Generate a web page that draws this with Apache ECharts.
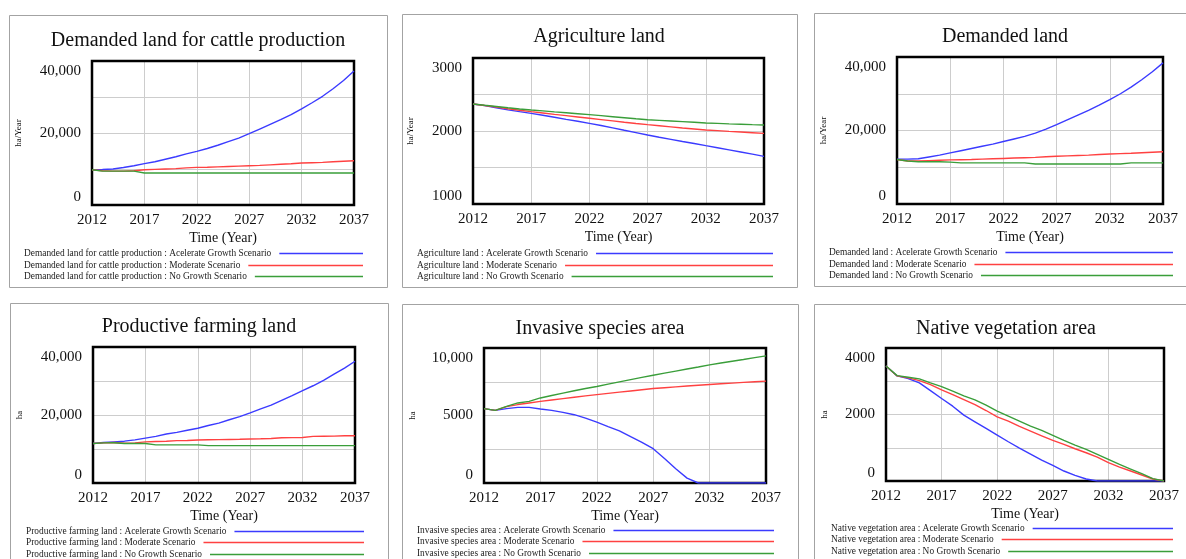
<!DOCTYPE html>
<html>
<head>
<meta charset="utf-8">
<script src="https://cdn.jsdelivr.net/npm/echarts@6/dist/echarts.min.js"></script>
<style>
  html, body { margin: 0; padding: 0; background: #ffffff; }
  #chart { width: 1186px; height: 559px; }
</style>
</head>
<body>
<div id="chart"></div>
<script>
// ---- data ----------------------------------------------------------------
const years = ['2012','2013','2014','2015','2016','2017','2018','2019','2020','2021','2022','2023','2024',
               '2025','2026','2027','2028','2029','2030','2031','2032','2033','2034','2035','2036','2037'];

const scenarios = ['Acelerate Growth Scenario', 'Moderate Scenario', 'No Growth Scenario'];

const panelTitles = ['Demanded land for cattle production', 'Agriculture land', 'Demanded land',
                     'Productive farming land', 'Invasive species area', 'Native vegetation area'];
const unitLabels = ['ha/Year', 'ha/Year', 'ha/Year', 'ha', 'ha', 'ha'];
const timeLabel = 'Time (Year)';

// value axis range per panel (min, max, step)
const yMin  = [0, 1000, 0, 0, 0, 0];
const yMax  = [40000, 3000, 40000, 40000, 10000, 4000];
const yStep = [10000, 500, 10000, 10000, 2500, 1000];

const cattleAccel    = [9800,9850,10000,10400,10900,11500,12000,12700,13400,14200,14900,15700,16600,17600,18600,19800,21100,22400,23700,25100,26700,28400,30200,32300,34600,37200];
const cattleModerate = [9800,9500,9400,9400,9500,9800,9900,10000,10100,10300,10450,10500,10600,10700,10800,10900,11000,11150,11300,11450,11650,11750,11850,12000,12150,12300];
const cattleNoGrowth = [9800,9400,9400,9400,9400,8900,8900,8900,8900,8900,8900,8900,8900,8900,8900,8900,8900,8900,8900,8900,8900,8900,8900,8900,8900,8900];

const agriAccel    = [2370,2348,2318,2290,2265,2242,2215,2188,2160,2133,2105,2075,2043,2010,1978,1945,1915,1886,1856,1828,1799,1771,1742,1713,1683,1653];
const agriModerate = [2370,2350,2328,2305,2285,2265,2247,2228,2210,2192,2174,2156,2138,2120,2103,2087,2072,2057,2042,2028,2014,2005,1995,1986,1977,1968];
const agriNoGrowth = [2370,2352,2335,2318,2302,2288,2275,2262,2250,2237,2224,2210,2196,2182,2168,2155,2146,2137,2128,2119,2110,2104,2098,2093,2087,2082];

const demandAccel    = [12200,12200,12300,12800,13300,13900,14500,15100,15700,16300,17000,17700,18400,19300,20400,21600,22900,24200,25500,26900,28400,30000,31800,33800,36000,38400];
const demandModerate = [12100,11700,11700,11800,11900,12000,12050,12100,12200,12300,12400,12500,12600,12700,12850,13000,13100,13200,13300,13450,13600,13700,13800,13950,14100,14200];
const demandNoGrowth = [12100,11700,11500,11500,11500,11400,11200,11200,11200,11200,11200,11200,11200,10900,10900,10900,10900,10900,10900,10900,10900,10900,11200,11200,11200,11200];

const farmAccel    = [11600,11900,12100,12300,12700,13200,13700,14400,14900,15500,16100,16900,17600,18600,19500,20600,21800,22900,24300,25700,27200,28600,30200,32000,33800,35800];
const farmModerate = [11600,11800,11900,11700,11800,12100,12200,12300,12450,12500,12650,12700,12750,12800,12850,12950,13000,13100,13300,13350,13400,13700,13750,13800,13900,13900];
const farmNoGrowth = [11600,11800,11850,11600,11600,11600,11200,11200,11200,11200,11200,11000,11000,11000,11000,11000,11000,11000,11000,11000,11000,11000,11000,11000,11000,11000];

const invasiveAccel    = [5510,5380,5510,5600,5600,5480,5380,5230,5060,4810,4510,4180,3860,3430,3010,2540,1810,1060,360,0,0,0,0,0,0,0];
const invasiveModerate = [5510,5380,5660,5810,5930,6050,6150,6250,6350,6450,6550,6640,6730,6820,6910,7000,7060,7120,7180,7240,7300,7350,7400,7450,7500,7550];
const invasiveNoGrowth = [5510,5380,5680,5930,6050,6300,6480,6660,6830,7000,7150,7320,7490,7660,7820,7980,8140,8290,8440,8590,8750,8890,9020,9150,9290,9420];

const nativeAccel    = [3460,3160,3080,2950,2720,2480,2250,1980,1780,1580,1380,1180,990,810,630,470,300,170,60,0,0,0,0,0,0,0];
const nativeModerate = [3460,3160,3100,3020,2900,2740,2600,2450,2300,2120,1930,1800,1640,1500,1360,1220,1100,970,850,720,550,420,300,180,60,0];
const nativeNoGrowth = [3460,3170,3120,3070,2950,2840,2700,2560,2440,2280,2100,1950,1800,1650,1520,1370,1220,1080,950,800,650,500,360,220,70,0];

const panelSeries = [
  [cattleAccel, cattleModerate, cattleNoGrowth],
  [agriAccel, agriModerate, agriNoGrowth],
  [demandAccel, demandModerate, demandNoGrowth],
  [farmAccel, farmModerate, farmNoGrowth],
  [invasiveAccel, invasiveModerate, invasiveNoGrowth],
  [nativeAccel, nativeModerate, nativeNoGrowth]
];

// ---- layout & style ------------------------------------------------------
const SERIF = '"Liberation Serif", "Times New Roman", serif';
const TEXT = '#111111';
const lineColors = ['#3b3bff', '#ff4141', '#3a9e3a'];

// frame: outer panel box; plot: grid rect; title centre; legend rows
const layout = [
  { frame: [9, 15, 378, 272],   plot: [92, 61, 262, 144],  title: [198, 39],  nameGap: 69, leg: [24, 253, 265, 276, 363] },
  { frame: [402, 14, 395, 273], plot: [473, 58, 291, 146], title: [599, 35],  nameGap: 58, leg: [417, 253, 265, 276, 773] },
  { frame: [814, 13, 400, 273], plot: [897, 57, 266, 147], title: [1005, 35], nameGap: 69, leg: [829, 252, 264, 275, 1173] },
  { frame: [10, 303, 378, 300], plot: [93, 347, 262, 136], title: [199, 325], nameGap: 69, leg: [26, 531, 542, 554, 364] },
  { frame: [402, 304, 396, 300],plot: [484, 348, 282, 135],title: [600, 327], nameGap: 67, leg: [417, 530, 541, 553, 774] },
  { frame: [814, 304, 400, 300],plot: [886, 348, 278, 133],title: [1006, 327],nameGap: 57, leg: [831, 528, 539, 551, 1173] }
];

const LEGEND_FONT = 9.4;
const measureCtx = document.createElement('canvas').getContext('2d');
measureCtx.font = LEGEND_FONT + 'px ' + SERIF;
function textWidth(s) { return measureCtx.measureText(s).width; }

function fmtNumber(v) {
  const s = String(v);
  return v >= 10000 ? s.replace(/\B(?=(\d{3})+(?!\d))/g, ',') : s;
}

const titles = [], grids = [], xAxes = [], yAxes = [], series = [], legends = [], graphics = [];

layout.forEach((L, i) => {
  const [fx, fy, fw, fh] = L.frame;
  graphics.push({
    type: 'rect', silent: true, z: -1,
    shape: { x: fx + 0.5, y: fy + 0.5, width: fw, height: fh },
    style: { fill: 'none', stroke: '#a3a3a3', lineWidth: 1 }
  });

  titles.push({
    text: panelTitles[i],
    left: L.title[0], top: L.title[1] - 8, textAlign: 'center', padding: 0,
    textStyle: { fontFamily: SERIF, fontSize: 20, fontWeight: 'normal', color: TEXT }
  });

  // plot frame sits above the grid lines, below the curves
  const [px, py, pw, ph] = L.plot;
  grids.push({
    left: px, top: py, width: pw, height: ph, z: 1,
    show: true, borderColor: '#000000', borderWidth: 2.5, backgroundColor: 'transparent'
  });

  xAxes.push({
    type: 'category', gridIndex: i, data: years, boundaryGap: false,
    name: timeLabel, nameLocation: 'middle', nameGap: 26,
    nameTextStyle: { fontFamily: SERIF, fontSize: 14, color: TEXT },
    axisLine: { show: false }, axisTick: { show: false, interval: 4 },
    axisLabel: { interval: 4, margin: 8, fontFamily: SERIF, fontSize: 15, color: TEXT },
    splitLine: { show: true, interval: 4, lineStyle: { color: '#cdcdcd', width: 1 } }
  });

  const lo = yMin[i], hi = yMax[i], mid = (lo + hi) / 2;
  const richBase = { fontFamily: SERIF, fontSize: 15, color: TEXT };
  yAxes.push({
    type: 'value', gridIndex: i, min: lo, max: hi, interval: yStep[i],
    name: unitLabels[i], nameLocation: 'middle', nameGap: L.nameGap,
    nameTextStyle: { fontFamily: SERIF, fontSize: 9, color: TEXT },
    axisLine: { show: false }, axisTick: { show: false },
    axisLabel: {
      margin: 11, fontFamily: SERIF, fontSize: 15, color: TEXT,
      formatter: (v) => {
        if (v === hi) return '{hi|' + fmtNumber(v) + '}';
        if (v === lo) return '{lo|' + fmtNumber(v) + '}';
        if (v === mid) return '{mid|' + fmtNumber(v) + '}';
        return '';
      },
      rich: {
        hi: Object.assign({ padding: [20, 0, 0, 0] }, richBase),
        lo: Object.assign({ padding: [0, 0, 16, 0] }, richBase),
        mid: Object.assign({}, richBase)
      }
    },
    splitLine: { show: true, lineStyle: { color: '#cdcdcd', width: 1 } }
  });

  const [lx, r1, r2, r3, rightEnd] = L.leg;
  const rows = [r1, r2, r3];
  panelSeries[i].forEach((values, k) => {
    const name = panelTitles[i] + ' : ' + scenarios[k];
    series.push({
      name: name, type: 'line', xAxisIndex: i, yAxisIndex: i, z: 3,
      data: values, symbol: 'none', smooth: false, animation: false,
      lineStyle: { color: lineColors[k], width: 1.4 },
      itemStyle: { color: lineColors[k] }
    });
    const gap = 8;
    legends.push({
      data: [name], left: lx, top: rows[k] - 4, padding: 0,
      align: 'right', icon: 'rect', itemWidth: Math.max(10, rightEnd - lx - textWidth(name) - gap),
      itemHeight: 1.4, selectedMode: false,
      textStyle: { fontFamily: SERIF, fontSize: LEGEND_FONT, color: '#222222', padding: [0, gap - 5, 0, 0] }
    });
  });
});

const chart = echarts.init(document.getElementById('chart'), null, { renderer: 'canvas' });
chart.setOption({
  backgroundColor: '#ffffff',
  animation: false,
  title: titles,
  grid: grids,
  xAxis: xAxes,
  yAxis: yAxes,
  legend: legends,
  series: series,
  graphic: { elements: graphics }
});
</script>
</body>
</html>
